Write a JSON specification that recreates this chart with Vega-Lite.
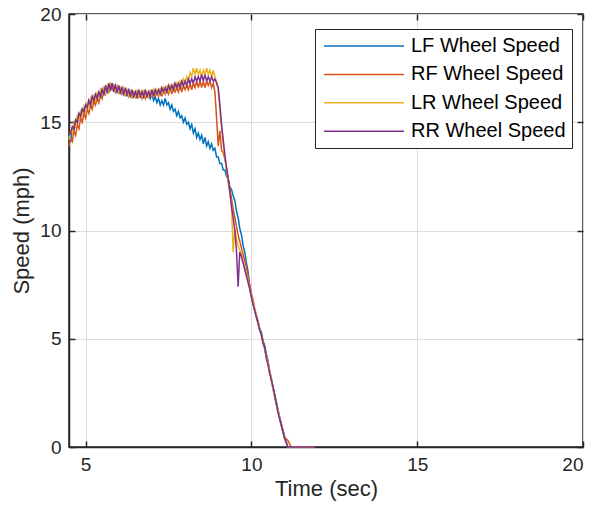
{
  "$schema": "https://vega.github.io/schema/vega-lite/v6.json",
  "width": 514,
  "height": 433,
  "autosize": {"type": "none"},
  "padding": {"left": 69, "top": 14, "right": 14, "bottom": 69},
  "background": "white",
  "config": {
    "view": {"stroke": "#262626", "strokeWidth": 1.5},
    "font": "Liberation Sans"
  },
  "data": {"values": [
    {"t":4.5,"LF":14.3,"RF":13.9,"LR":14.2,"RR":14.4},
    {"t":4.55,"LF":14.1,"RF":14.2,"LR":14.6,"RR":14.5},
    {"t":4.6,"LF":14.7,"RF":14.1,"LR":14.5,"RR":14.8},
    {"t":4.65,"LF":14.6,"RF":14.6,"LR":15.0,"RR":14.7},
    {"t":4.7,"LF":15.1,"RF":14.4,"LR":14.8,"RR":15.1},
    {"t":4.75,"LF":14.9,"RF":14.9,"LR":15.3,"RR":15.0},
    {"t":4.8,"LF":15.4,"RF":14.7,"LR":15.1,"RR":15.4},
    {"t":4.85,"LF":15.2,"RF":15.2,"LR":15.5,"RR":15.3},
    {"t":4.9,"LF":15.6,"RF":15.0,"LR":15.3,"RR":15.6},
    {"t":4.95,"LF":15.4,"RF":15.4,"LR":15.7,"RR":15.5},
    {"t":5.0,"LF":15.8,"RF":15.2,"LR":15.5,"RR":15.8},
    {"t":5.05,"LF":15.6,"RF":15.6,"LR":15.9,"RR":15.7},
    {"t":5.1,"LF":16.0,"RF":15.4,"LR":15.7,"RR":16.0},
    {"t":5.15,"LF":15.8,"RF":15.8,"LR":16.1,"RR":15.8},
    {"t":5.2,"LF":16.1,"RF":15.6,"LR":15.9,"RR":16.2},
    {"t":5.25,"LF":15.9,"RF":16.0,"LR":16.2,"RR":16.0},
    {"t":5.3,"LF":16.3,"RF":15.8,"LR":16.0,"RR":16.3},
    {"t":5.35,"LF":16.0,"RF":16.1,"LR":16.4,"RR":16.1},
    {"t":5.4,"LF":16.4,"RF":15.9,"LR":16.1,"RR":16.4},
    {"t":5.45,"LF":16.1,"RF":16.3,"LR":16.5,"RR":16.2},
    {"t":5.5,"LF":16.5,"RF":16.1,"LR":16.3,"RR":16.5},
    {"t":5.55,"LF":16.3,"RF":16.5,"LR":16.6,"RR":16.3},
    {"t":5.6,"LF":16.6,"RF":16.3,"LR":16.4,"RR":16.7},
    {"t":5.65,"LF":16.4,"RF":16.6,"LR":16.7,"RR":16.4},
    {"t":5.7,"LF":16.7,"RF":16.4,"LR":16.5,"RR":16.8},
    {"t":5.75,"LF":16.5,"RF":16.7,"LR":16.8,"RR":16.5},
    {"t":5.8,"LF":16.8,"RF":16.5,"LR":16.6,"RR":16.8},
    {"t":5.85,"LF":16.4,"RF":16.7,"LR":16.7,"RR":16.5},
    {"t":5.9,"LF":16.7,"RF":16.4,"LR":16.5,"RR":16.7},
    {"t":5.95,"LF":16.4,"RF":16.6,"LR":16.7,"RR":16.4},
    {"t":6.0,"LF":16.6,"RF":16.3,"LR":16.4,"RR":16.7},
    {"t":6.05,"LF":16.3,"RF":16.6,"LR":16.6,"RR":16.4},
    {"t":6.1,"LF":16.6,"RF":16.3,"LR":16.4,"RR":16.6},
    {"t":6.15,"LF":16.3,"RF":16.5,"LR":16.6,"RR":16.3},
    {"t":6.2,"LF":16.5,"RF":16.2,"LR":16.3,"RR":16.6},
    {"t":6.25,"LF":16.2,"RF":16.5,"LR":16.5,"RR":16.3},
    {"t":6.3,"LF":16.5,"RF":16.2,"LR":16.2,"RR":16.5},
    {"t":6.35,"LF":16.2,"RF":16.4,"LR":16.5,"RR":16.2},
    {"t":6.4,"LF":16.4,"RF":16.1,"LR":16.2,"RR":16.5},
    {"t":6.45,"LF":16.2,"RF":16.4,"LR":16.4,"RR":16.2},
    {"t":6.5,"LF":16.4,"RF":16.1,"LR":16.2,"RR":16.4},
    {"t":6.55,"LF":16.1,"RF":16.4,"LR":16.5,"RR":16.2},
    {"t":6.6,"LF":16.4,"RF":16.1,"LR":16.2,"RR":16.5},
    {"t":6.65,"LF":16.2,"RF":16.4,"LR":16.4,"RR":16.2},
    {"t":6.7,"LF":16.4,"RF":16.1,"LR":16.2,"RR":16.4},
    {"t":6.75,"LF":16.1,"RF":16.3,"LR":16.5,"RR":16.2},
    {"t":6.8,"LF":16.4,"RF":16.1,"LR":16.2,"RR":16.5},
    {"t":6.85,"LF":16.2,"RF":16.4,"LR":16.4,"RR":16.2},
    {"t":6.9,"LF":16.4,"RF":16.1,"LR":16.2,"RR":16.4},
    {"t":6.95,"LF":16.1,"RF":16.4,"LR":16.5,"RR":16.2},
    {"t":7.0,"LF":16.3,"RF":16.2,"LR":16.2,"RR":16.5},
    {"t":7.05,"LF":16.0,"RF":16.4,"LR":16.5,"RR":16.2},
    {"t":7.1,"LF":16.2,"RF":16.2,"LR":16.3,"RR":16.5},
    {"t":7.15,"LF":15.9,"RF":16.4,"LR":16.5,"RR":16.3},
    {"t":7.2,"LF":16.1,"RF":16.2,"LR":16.3,"RR":16.5},
    {"t":7.25,"LF":15.8,"RF":16.5,"LR":16.6,"RR":16.3},
    {"t":7.3,"LF":16.0,"RF":16.2,"LR":16.3,"RR":16.6},
    {"t":7.35,"LF":15.8,"RF":16.5,"LR":16.6,"RR":16.4},
    {"t":7.4,"LF":16.1,"RF":16.3,"LR":16.4,"RR":16.6},
    {"t":7.45,"LF":15.8,"RF":16.5,"LR":16.7,"RR":16.4},
    {"t":7.5,"LF":15.9,"RF":16.3,"LR":16.4,"RR":16.7},
    {"t":7.55,"LF":15.6,"RF":16.6,"LR":16.7,"RR":16.5},
    {"t":7.6,"LF":15.8,"RF":16.3,"LR":16.5,"RR":16.7},
    {"t":7.65,"LF":15.5,"RF":16.6,"LR":16.8,"RR":16.5},
    {"t":7.7,"LF":15.6,"RF":16.4,"LR":16.5,"RR":16.8},
    {"t":7.75,"LF":15.3,"RF":16.6,"LR":16.8,"RR":16.6},
    {"t":7.8,"LF":15.5,"RF":16.4,"LR":16.6,"RR":16.8},
    {"t":7.85,"LF":15.2,"RF":16.7,"LR":16.9,"RR":16.6},
    {"t":7.9,"LF":15.3,"RF":16.4,"LR":16.7,"RR":16.9},
    {"t":7.95,"LF":15.0,"RF":16.7,"LR":17.0,"RR":16.7},
    {"t":8.0,"LF":15.2,"RF":16.5,"LR":16.8,"RR":16.9},
    {"t":8.05,"LF":14.9,"RF":16.7,"LR":17.1,"RR":16.7},
    {"t":8.1,"LF":15.0,"RF":16.5,"LR":16.9,"RR":17.0},
    {"t":8.15,"LF":14.7,"RF":16.8,"LR":17.3,"RR":16.8},
    {"t":8.2,"LF":14.9,"RF":16.5,"LR":17.1,"RR":17.0},
    {"t":8.25,"LF":14.5,"RF":16.8,"LR":17.5,"RR":16.8},
    {"t":8.3,"LF":14.7,"RF":16.6,"LR":17.2,"RR":17.1},
    {"t":8.35,"LF":14.3,"RF":16.9,"LR":17.5,"RR":16.9},
    {"t":8.4,"LF":14.5,"RF":16.6,"LR":17.2,"RR":17.1},
    {"t":8.45,"LF":14.2,"RF":16.9,"LR":17.4,"RR":16.9},
    {"t":8.5,"LF":14.4,"RF":16.6,"LR":17.1,"RR":17.2},
    {"t":8.55,"LF":14.0,"RF":16.9,"LR":17.4,"RR":16.9},
    {"t":8.6,"LF":14.3,"RF":16.6,"LR":17.2,"RR":17.2},
    {"t":8.65,"LF":13.9,"RF":16.9,"LR":17.5,"RR":16.9},
    {"t":8.7,"LF":14.1,"RF":16.7,"LR":17.2,"RR":17.1},
    {"t":8.75,"LF":13.8,"RF":16.9,"LR":17.4,"RR":16.9},
    {"t":8.8,"LF":14.0,"RF":16.6,"LR":17.1,"RR":17.1},
    {"t":8.85,"LF":13.7,"RF":16.8,"LR":17.4,"RR":16.9},
    {"t":8.9,"LF":13.8,"RF":16.4,"LR":17.1,"RR":17.0},
    {"t":8.95,"LF":13.4,"RF":15.2,"LR":16.9,"RR":16.8},
    {"t":9.0,"LF":13.4,"RF":13.9,"LR":16.5,"RR":16.6},
    {"t":9.05,"LF":13.1,"RF":14.6,"LR":15.6,"RR":15.8},
    {"t":9.1,"LF":13.1,"RF":13.7,"LR":14.8,"RR":14.9},
    {"t":9.15,"LF":12.8,"RF":13.6,"LR":14.0,"RR":14.2},
    {"t":9.2,"LF":12.8,"RF":13.3,"LR":13.4,"RR":13.5},
    {"t":9.25,"LF":12.5,"RF":12.9,"LR":12.8,"RR":12.9},
    {"t":9.3,"LF":12.4,"RF":12.4,"LR":12.2,"RR":12.4},
    {"t":9.35,"LF":12.0,"RF":11.9,"LR":11.7,"RR":11.8},
    {"t":9.4,"LF":11.9,"RF":11.5,"LR":11.2,"RR":11.1},
    {"t":9.45,"LF":11.6,"RF":11.0,"LR":9.0,"RR":10.6},
    {"t":9.5,"LF":11.4,"RF":10.6,"LR":10.1,"RR":10.0},
    {"t":9.55,"LF":10.9,"RF":10.2,"LR":9.6,"RR":9.1},
    {"t":9.6,"LF":10.6,"RF":9.8,"LR":9.3,"RR":7.4},
    {"t":9.65,"LF":10.1,"RF":9.5,"LR":9.1,"RR":9.0},
    {"t":9.7,"LF":9.8,"RF":9.2,"LR":8.9,"RR":8.8},
    {"t":9.75,"LF":9.3,"RF":8.9,"LR":8.6,"RR":8.5},
    {"t":9.8,"LF":9.0,"RF":8.6,"LR":8.3,"RR":8.2},
    {"t":9.85,"LF":8.5,"RF":8.3,"LR":8.0,"RR":7.9},
    {"t":9.9,"LF":8.1,"RF":7.9,"LR":7.7,"RR":7.6},
    {"t":9.95,"LF":7.4,"RF":7.5,"LR":7.3,"RR":7.3},
    {"t":10.0,"LF":7.0,"RF":7.1,"LR":7.0,"RR":6.9},
    {"t":10.05,"LF":6.6,"RF":6.8,"LR":6.7,"RR":6.6},
    {"t":10.1,"LF":6.3,"RF":6.4,"LR":6.4,"RR":6.3},
    {"t":10.15,"LF":6.0,"RF":6.1,"LR":6.0,"RR":6.0},
    {"t":10.2,"LF":5.8,"RF":5.8,"LR":5.7,"RR":5.7},
    {"t":10.25,"LF":5.5,"RF":5.4,"LR":5.5,"RR":5.4},
    {"t":10.3,"LF":5.3,"RF":5.2,"LR":5.1,"RR":5.2},
    {"t":10.35,"LF":4.9,"RF":4.9,"LR":4.8,"RR":4.8},
    {"t":10.4,"LF":4.7,"RF":4.6,"LR":4.5,"RR":4.6},
    {"t":10.45,"LF":4.3,"RF":4.2,"LR":4.2,"RR":4.1},
    {"t":10.5,"LF":4.0,"RF":3.9,"LR":3.9,"RR":3.8},
    {"t":10.55,"LF":3.5,"RF":3.5,"LR":3.5,"RR":3.4},
    {"t":10.6,"LF":3.2,"RF":3.1,"LR":3.2,"RR":3.1},
    {"t":10.65,"LF":2.8,"RF":2.7,"LR":2.7,"RR":2.8},
    {"t":10.7,"LF":2.45,"RF":2.4,"LR":2.3,"RR":2.4},
    {"t":10.75,"LF":2.1,"RF":2.0,"LR":2.0,"RR":2.0},
    {"t":10.8,"LF":1.75,"RF":1.7,"LR":1.7,"RR":1.6},
    {"t":10.85,"LF":1.4,"RF":1.35,"LR":1.3,"RR":1.3},
    {"t":10.9,"LF":1.1,"RF":1.05,"LR":1.0,"RR":1.0},
    {"t":11.0,"LF":0.5,"RF":0.45,"LR":0.4,"RR":0.4},
    {"t":11.1,"LF":0.0,"RF":0.3,"LR":0.0,"RR":0.0},
    {"t":11.2,"LF":0,"RF":0,"LR":0,"RR":0},
    {"t":11.3,"LF":0,"RF":0,"LR":0,"RR":0},
    {"t":11.4,"LF":0,"RF":0,"LR":0,"RR":0},
    {"t":11.5,"LF":0,"RF":0,"LR":0,"RR":0},
    {"t":11.6,"LF":0,"RF":0,"LR":0,"RR":0},
    {"t":11.7,"LF":0,"RF":0,"LR":0,"RR":0},
    {"t":11.8,"LF":0,"RF":0,"LR":0,"RR":0},
    {"t":11.9,"LF":0,"RF":0,"LR":0,"RR":0}
  ]},
  "transform": [{"fold": ["LF", "RF", "LR", "RR"], "as": ["series", "speed"]}],
  "layer": [
    {
      "mark": {"type": "line", "opacity": 0},
      "encoding": {
        "x": {"field": "t", "type": "quantitative",
          "scale": {"domain": [4.5, 20], "nice": false, "zero": false},
          "axis": {"orient": "top", "labels": false, "grid": false, "domain": false,
            "values": [5, 10, 15, 20], "tickSize": -6, "tickColor": "#262626", "tickWidth": 1.5, "title": null}},
        "y": {"field": "speed", "type": "quantitative",
          "scale": {"domain": [0, 20], "nice": false},
          "axis": {"orient": "right", "labels": false, "grid": false, "domain": false,
            "values": [0, 5, 10, 15, 20], "tickSize": -6, "tickColor": "#262626", "tickWidth": 1.5, "title": null}}
      }
    },
    {
      "mark": {"type": "line", "strokeWidth": 1.5},
      "encoding": {
        "x": {"field": "t", "type": "quantitative",
          "scale": {"domain": [4.5, 20], "nice": false, "zero": false},
          "axis": {"orient": "bottom", "values": [5, 10, 15, 20], "title": "Time (sec)",
            "grid": true, "gridColor": "#dcdcdc", "gridWidth": 1,
            "domain": true, "domainColor": "#262626", "domainWidth": 1.5,
            "tickSize": -6, "tickColor": "#262626", "tickWidth": 1.5,
            "labelFontSize": 19, "labelColor": "#262626", "labelPadding": 14, "labelFont": "Liberation Sans",
            "titleFontSize": 22, "titleFontWeight": "normal", "titleColor": "#262626", "titlePadding": 4, "titleFont": "Liberation Sans"}},
        "y": {"field": "speed", "type": "quantitative",
          "scale": {"domain": [0, 20], "nice": false},
          "axis": {"orient": "left", "values": [0, 5, 10, 15, 20], "title": "Speed (mph)",
            "grid": true, "gridColor": "#dcdcdc", "gridWidth": 1,
            "domain": true, "domainColor": "#262626", "domainWidth": 1.5,
            "tickSize": -6, "tickColor": "#262626", "tickWidth": 1.5,
            "labelFontSize": 19, "labelColor": "#262626", "labelPadding": 14, "labelFont": "Liberation Sans",
            "titleFontSize": 22, "titleFontWeight": "normal", "titleColor": "#262626", "titlePadding": 6, "titleFont": "Liberation Sans"}},
        "color": {"field": "series", "type": "nominal",
          "scale": {"domain": ["LF", "RF", "LR", "RR"], "range": ["#0072BD", "#D95319", "#EDB120", "#7E2F8E"]},
          "legend": {"orient": "none", "legendX": 246, "legendY": 15, "title": null,
            "labelExpr": "datum.label + ' Wheel Speed'",
            "symbolType": "M-4,0H4", "symbolSize": 400, "symbolStrokeWidth": 1.5, "symbolOffset": 32,
            "labelOffset": 36, "labelFontSize": 20, "labelColor": "#000000", "labelLimit": 400, "labelFont": "Liberation Sans",
            "padding": 6, "rowPadding": 7.4, "strokeColor": "#262626", "fillColor": "#ffffff", "cornerRadius": 0}}
      }
    }
  ],
  "resolve": {"axis": {"x": "independent", "y": "independent"}}
}
